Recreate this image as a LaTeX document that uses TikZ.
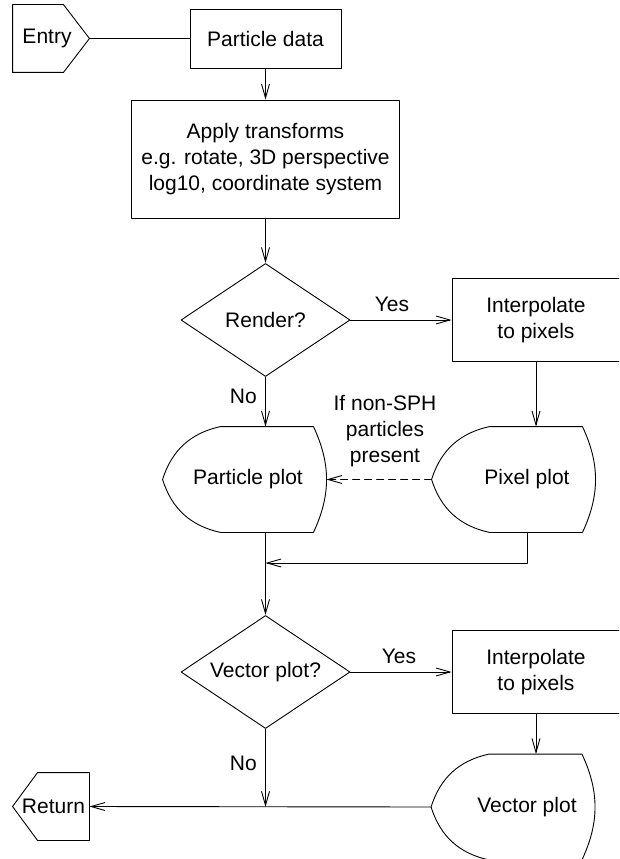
\documentclass[tikz,border=0pt]{standalone}
\usepackage{fontspec}
\setmainfont{Liberation Sans}
\usetikzlibrary{arrows.meta,shapes.geometric,positioning}

\tikzset{
  box/.style={draw,rectangle,align=center,inner sep=0pt},
  decision/.style={draw,diamond,shape aspect=1.5,inner sep=0pt,minimum width=169pt,minimum height=113pt},
  display/.style={inner sep=0pt,minimum width=163pt,minimum height=105pt},
  terminal/.style={inner sep=0pt,minimum width=76pt,minimum height=67pt},
  note/.style={align=center,inner sep=0pt}
}

% outline of a display (plot) symbol round an empty node
\newcommand{\plotoutline}[1]{%
  \draw ([xshift=58pt]#1.north west) -- ([xshift=-13pt]#1.north east)
    to[bend left=25] ([xshift=-13pt]#1.south east)
    -- ([xshift=58pt]#1.south west)
    to[bend left=30] (#1.west)
    to[bend left=30] ([xshift=58pt]#1.north west) -- cycle;}
% terminal outlines, pointing right and left
\newcommand{\entryoutline}[1]{%
  \draw (#1.north west) -- ([xshift=-26pt]#1.north east) -- (#1.east)
    -- ([xshift=-26pt]#1.south east) -- (#1.south west) -- cycle;}
\newcommand{\returnoutline}[1]{%
  \draw (#1.north east) -- ([xshift=25pt]#1.north west) -- (#1.west)
    -- ([xshift=25pt]#1.south west) -- (#1.south east) -- cycle;}

\begin{document}
\begin{tikzpicture}[line cap=round,line join=round,>={Straight Barb[length=14pt,width=8pt]},x=1pt,y=-1pt,line width=0.9pt,font=\fontsize{21pt}{26pt}\selectfont]
\useasboundingbox (0,0) rectangle (619,859);
\clip (0,0) rectangle (619,859);

% nodes
\node[terminal] (entry) at (51,38.5) {\hspace*{-8pt}Entry};
\node[box,minimum width=151pt,minimum height=59pt] (pdata) at (265.5,38.5) {Particle data};
\node[box,minimum width=268pt,minimum height=118pt] (apply) at (265.5,159) {Apply transforms\\e.g. rotate, 3D perspective\\log10, coordinate system};
\node[decision] (render) at (265.5,320) {Render?};
\node[box,minimum width=168pt,minimum height=83pt] (interp1) at (536,320) {Interpolate\\to pixels};
\node[display,label={[xshift=3.5pt]center:Particle plot}] (pplot) at (244.5,479.5) {};
\node[display,label={[xshift=13.5pt]center:Pixel plot}] (pixplot) at (513.5,479.5) {};
\node[note] (nonsph) at (385,431) {If non-SPH\\particles\\present};
\node[decision] (vecq) at (265.5,672) {Vector plot?};
\node[box,minimum width=168pt,minimum height=83pt] (interp2) at (536,672) {Interpolate\\to pixels};
\node[display,label={[xshift=14pt]center:Vector plot}] (vplot) at (513,807) {};
\node[terminal] (ret) at (51,806.5) {\hspace*{5pt}Return};

\entryoutline{entry}
\returnoutline{ret}
\plotoutline{pplot}
\plotoutline{pixplot}
\plotoutline{vplot}

\coordinate (merge1) at (265.5,563);
\coordinate (merge2) at (265.5,807);

% connectors
\draw (entry.east) -- (pdata.west);
\draw[->] (pdata.south) -- (apply.north);
\draw[->] (apply.south) -- (render.north);
\draw[->] (render.east) -- node[pos=0.41,above=5pt] {Yes} (interp1.west);
\draw[->] (render.south) -- node[pos=0.4,left=5pt] {No} (render.south |- pplot.north);
\draw[->] (interp1.south) -- (interp1.south |- pixplot.north);
\draw[->,dash pattern=on 7pt off 5pt] (pixplot.west) -- (pplot.east);
\draw[->] (render.south |- pplot.south) -- (vecq.north);
\draw[->] ([xshift=13.5pt]pixplot.south) |- (merge1);
\draw[->] (vecq.east) -- node[pos=0.48,above=5pt] {Yes} (interp2.west);
\draw[->] (interp2.south) -- (interp2.south |- vplot.north);
\draw[->] (vecq.south) -- node[pos=0.44,left=5pt] {No} (merge2);
\draw[->] (vplot.west) -- (ret.east);
\end{tikzpicture}
\end{document}
